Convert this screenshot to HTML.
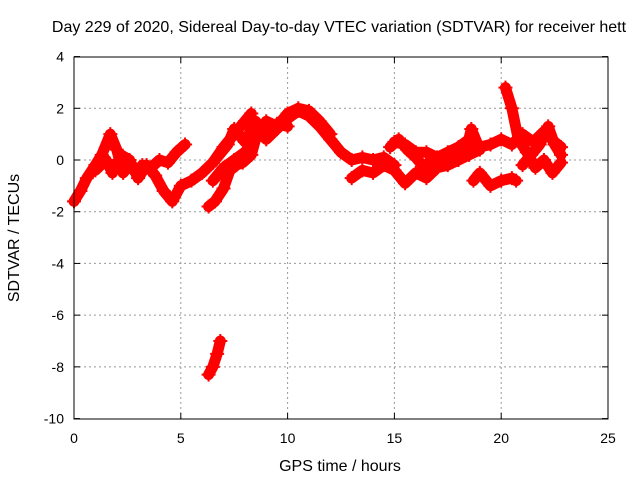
<!DOCTYPE html>
<html><head><meta charset="utf-8"><style>
body{margin:0;background:#fff}
svg text{font-family:"Liberation Sans",sans-serif;font-size:14px;fill:#000}
svg text.big{font-size:16px}
</style></head><body>
<svg width="640" height="480" id="c">
<text class="big" x="339" y="32" text-anchor="middle">Day 229 of 2020, Sidereal Day-to-day VTEC variation (SDTVAR) for receiver hett</text>
<text class="big" x="340" y="471" text-anchor="middle">GPS time / hours</text>
<text class="big" transform="translate(19,238) rotate(-90)" text-anchor="middle">SDTVAR / TECUs</text>
<g id="grid"></g><g id="data"></g>
<rect x="74" y="57" width="534" height="362" fill="none" stroke="#000" stroke-width="1"/>
<g id="ticks"></g>
</svg>
<script>
const xTicks=[0,5,10,15,20,25];
const yTicks=[4,2,0,-2,-4,-6,-8,-10];
const trackA=[[0,-1.6],[0.3,-1.2],[0.6,-0.7],[1,-0.2],[1.3,0.2],[1.7,1.0],[2,0.4],[2.3,-0.5],[2.6,-0.2],[2.9,-0.5],[3.2,-0.2],[3.6,-0.3],[4,0],[4.4,-0.1],[4.8,0.3],[5.2,0.6]];
const trackB=[[1,-0.4],[1.5,0],[1.8,-0.5],[2.2,0.2],[2.6,0],[3,-0.7],[3.4,-0.2],[3.8,-0.6],[4.2,-1.2],[4.6,-1.6],[5,-1.0],[5.5,-0.8],[6,-0.5],[6.5,-0.1],[7,0.5],[7.5,1.0],[8,1.5],[8.3,1.8]];
const trackC=[[6.3,-1.8],[6.6,-1.6],[7,-1.1],[7.3,-0.4],[7.6,-0.2],[7.9,-0.1],[8.3,0.2],[8.6,1.1],[9,0.8],[9.5,1.2],[10,1.6],[10.5,1.9],[11,1.7],[11.5,1.3],[12,0.8],[12.5,0.3],[13,0],[13.5,0.1],[14,0],[14.5,0.1],[15,-0.2]];
const trackD=[[6.5,-0.8],[7,-0.3],[7.5,0],[8,0.3],[8.5,0.8],[9,1.5],[9.5,1.3],[10,1.8],[10.5,2.0],[11,1.9],[11.5,1.5],[12,1.0]];
const trackE=[[6.5,-0.1],[7.2,0.6],[7.5,1.2],[8,0.7],[8.5,1.5],[9,1.0],[9.5,1.4],[10,1.3]];
const trackF=[[15,0.7],[15.5,0.6],[16,0.3],[16.5,0.3],[17,0.1],[17.5,0.3],[18,0.5],[18.5,0.8],[19,0.5],[19.5,0.6],[20,0.8],[20.5,0.6],[21,1.0],[21.5,0.7],[22,1.1],[22.5,0.7],[22.8,0.5]];
const trackG=[[13,-0.7],[13.5,-0.4],[14,-0.5],[14.5,-0.2],[15,-0.4],[15.5,-0.9],[16,-0.5],[16.5,-0.7],[17,-0.3],[17.5,-0.2],[18,0],[18.5,0.2],[19,0.4]];
const trackH=[[18.7,-0.8],[19,-0.5],[19.5,-1.0],[20,-0.8],[20.5,-0.7],[20.7,-0.8]];
const trackI=[[20.2,2.8],[20.5,2.0],[20.8,0.8],[21.2,0.3],[21.6,-0.3],[22,0],[22.4,-0.5],[22.8,-0.1]];
const trackJ=[[6.3,-8.3],[6.5,-8.0],[6.7,-7.5],[6.85,-7.0]];
const trackK=[[14.8,0.5],[15.2,0.8],[15.6,0.4],[16,0.1],[16.4,-0.3],[16.8,0.1],[17.2,-0.1],[17.6,0.3],[18,0.3],[18.4,0.5],[18.6,1.2],[18.9,0.6]];
const trackL=[[21,-0.2],[21.4,0.2],[21.8,0.6],[22.2,1.3],[22.5,0.6],[22.8,0.2]];
const tracks=[trackA,trackB,trackC,trackD,trackE,trackF,trackG,trackH,trackI,trackJ,trackK,trackL];
const X=v=>74+v*(534/25), Y=v=>160-v*(362/14);
const NS='http://www.w3.org/2000/svg';
const mk=(t,a,p)=>{const e=document.createElementNS(NS,t);for(const k in a)e.setAttribute(k,a[k]);p.appendChild(e);return e;};
const grid=document.getElementById('grid'),tk=document.getElementById('ticks'),dg=document.getElementById('data');
xTicks.forEach(v=>{const x=X(v);
 if(v>0&&v<25){const g=mk('line',{x1:x,x2:x,y1:57,y2:419,stroke:'#999','stroke-dasharray':'2,3'},grid);
 
 }
 mk('line',{x1:x,x2:x,y1:419,y2:413,stroke:'#000'},tk);mk('line',{x1:x,x2:x,y1:57,y2:63,stroke:'#000'},tk);
 const t=mk('text',{x:x,y:443,'text-anchor':'middle'},tk);t.textContent=v;
 
 });
yTicks.forEach(v=>{const y=Y(v);
 if(v<4&&v>-10){const g=mk('line',{x1:74,x2:608,y1:y,y2:y,stroke:'#999','stroke-dasharray':'2,3'},grid);
 
 }
 mk('line',{x1:74,x2:80,y1:y,y2:y,stroke:'#000'},tk);mk('line',{x1:602,x2:608,y1:y,y2:y,stroke:'#000'},tk);
 const t=mk('text',{x:64,y:y+5,'text-anchor':'end'},tk);t.textContent=v;
 
 });
tracks.forEach(tr=>{
 const p=mk('polyline',{points:tr.map(d=>X(d[0])+','+Y(d[1])).join(' '),fill:'none',stroke:'#f00','stroke-width':11,'stroke-linejoin':'round','stroke-linecap':'round'},dg);
 
 
 tr.forEach(d=>{const x=X(d[0]),y=Y(d[1]);
  const m=mk('path',{d:`M${x-7},${y}H${x+7}M${x},${y-7}V${y+7}`,stroke:'#f00','stroke-width':2},dg);
  
  });
});
</script>
</body></html>
